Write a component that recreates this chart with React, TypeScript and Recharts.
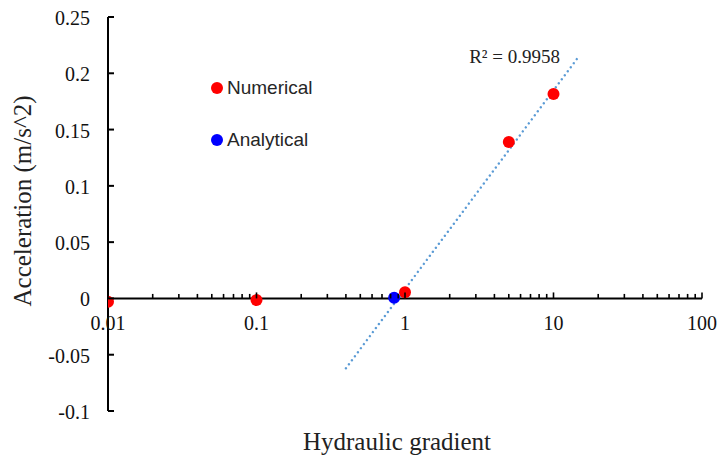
import React from 'react';
import {
  ScatterChart,
  Scatter,
  XAxis,
  YAxis,
  ReferenceLine,
  Legend,
  Label,
  Customized,
} from 'recharts';

// Acceleration vs hydraulic gradient
const numericalX = [0.01, 0.1, 1, 5, 10];
const numericalY = [-0.003, -0.0015, 0.0055, 0.139, 0.1815];

const analyticalX = [0.845];
const analyticalY = [0.0005];

// logarithmic trendline of the numerical run (end points)
const trendX = [0.4, 15];
const trendY = [-0.062, 0.216];
const trendR2 = '0.9958';

const decadeTicks = [0.01, 0.1, 1, 10, 100];
const minorSteps = [2, 3, 4, 5, 6, 7, 8, 9];
const yTicks = [-0.1, -0.05, 0, 0.05, 0.1, 0.15, 0.2, 0.25];

const Y_MIN = -0.1;
const Y_MAX = 0.25;

const W = 721;
const H = 459;
const MARGIN = { top: 17, right: 19, bottom: 0, left: 0 };
const Y_AXIS_W = 108;
const X_AXIS_H = 48;
const PLOT_H = H - MARGIN.top - MARGIN.bottom - X_AXIS_H;
// the horizontal axis crosses at y = 0, not at the bottom of the plot
const ZERO_SHIFT = -PLOT_H * (0 - Y_MIN) / (Y_MAX - Y_MIN);

const SERIF = '"Liberation Serif", "Times New Roman", serif';
const SANS = '"Liberation Sans", Arial, sans-serif';

const toPoints = (xs: number[], ys: number[]) => xs.map((x, i) => ({ x, y: ys[i] }));

const numerical = toPoints(numericalX, numericalY);
const analytical = toPoints(analyticalX, analyticalY);
const trend = toPoints(trendX, trendY);

const xTicks = [
  ...decadeTicks,
  ...decadeTicks.slice(0, -1).flatMap((d) => minorSteps.map((m) => +(d * m).toPrecision(3))),
].sort((a, b) => a - b);

const legendItems = [
  { name: 'Numerical', color: '#FF0000' },
  { name: 'Analytical', color: '#0000FF' },
];

function XTick(props: any) {
  const { x, y, payload } = props;
  const base = y + ZERO_SHIFT;
  const major = decadeTicks.includes(payload.value);
  return (
    <g>
      <line x1={x} x2={x} y1={base} y2={base - (major ? 6 : 4.5)} stroke="#000" strokeWidth={1.6} />
      {major && (
        <text x={x} y={base + 25} textAnchor="middle" dominantBaseline="central" fontFamily={SERIF} fontSize={20} fill="#111">
          {String(payload.value)}
        </text>
      )}
    </g>
  );
}

function YTick(props: any) {
  const { x, y, payload } = props;
  return (
    <g>
      <line x1={x} x2={x + 6} y1={y} y2={y} stroke="#000" strokeWidth={2} />
      <text x={x - 18} y={y + 1} textAnchor="end" dominantBaseline="central" fontFamily={SERIF} fontSize={20} fill="#111">
        {String(payload.value)}
      </text>
    </g>
  );
}

const dot = (color: string) => (p: any) => <circle cx={p.cx} cy={p.cy} r={6} fill={color} />;

function LegendBox() {
  return (
    <div style={{ display: 'flex', flexDirection: 'column', gap: 28 }}>
      {legendItems.map((it) => (
        <div key={it.name} style={{ display: 'flex', alignItems: 'center', height: 24 }}>
          <span style={{ width: 12, height: 12, borderRadius: 6, background: it.color, marginRight: 4 }} />
          <span style={{ fontFamily: SANS, fontSize: 19, color: '#262626' }}>{it.name}</span>
        </div>
      ))}
    </div>
  );
}

function R2Label(props: any) {
  const xScale = props.xAxisMap ? (Object.values(props.xAxisMap)[0] as any)?.scale : null;
  const yScale = props.yAxisMap ? (Object.values(props.yAxisMap)[0] as any)?.scale : null;
  const tx = xScale ? xScale(trendX[1]) : 580;
  const ty = yScale ? yScale(trendY[1]) : 55;
  return (
    <text x={tx - 20} y={ty + 1} textAnchor="end" dominantBaseline="central" fontFamily={SERIF} fontSize={19} fill="#222">
      {`R² = ${trendR2}`}
    </text>
  );
}

export default function App() {
  return (
    <div style={{ position: 'absolute', left: 0, top: 0, background: '#fff' }}>
      <ScatterChart width={W} height={H} margin={MARGIN}>
        <XAxis
          dataKey="x"
          type="number"
          scale="log"
          domain={[0.01, 100]}
          ticks={xTicks}
          interval={0}
          allowDataOverflow
          axisLine={false}
          tickLine={false}
          tickSize={0}
          tickMargin={0}
          height={X_AXIS_H}
          tick={<XTick />}
        >
          <Label
            content={() => (
              <text x={397} y={450} textAnchor="middle" fontFamily={SERIF} fontSize={25} fill="#222">
                Hydraulic gradient
              </text>
            )}
          />
        </XAxis>
        <YAxis
          dataKey="y"
          type="number"
          domain={[Y_MIN, Y_MAX]}
          ticks={yTicks}
          interval={0}
          allowDataOverflow
          width={Y_AXIS_W}
          axisLine={{ stroke: '#000', strokeWidth: 2 }}
          tickLine={false}
          tickSize={0}
          tickMargin={0}
          tick={<YTick />}
        >
          <Label
            content={() => (
              <text
                x={22}
                y={201}
                transform="rotate(-90 22 201)"
                textAnchor="middle"
                dominantBaseline="central"
                fontFamily={SERIF}
                fontSize={25}
                fill="#222"
              >
                Acceleration (m/s^2)
              </text>
            )}
          />
        </YAxis>
        <ReferenceLine y={0} stroke="#000" strokeWidth={2} />
        <Scatter
          name="Trend"
          data={trend}
          line={{ stroke: '#5B9BD5', strokeWidth: 2.4, strokeDasharray: '0.01 5', strokeLinecap: 'round' }}
          shape={() => null}
          legendType="none"
          isAnimationActive={false}
        />
        <Scatter name="Numerical" data={numerical} fill="#FF0000" shape={dot('#FF0000')} isAnimationActive={false} />
        <Scatter name="Analytical" data={analytical} fill="#0000FF" shape={dot('#0000FF')} isAnimationActive={false} />
        <Customized component={R2Label} />
        <Legend
          layout="horizontal"
          verticalAlign="middle"
          align="center"
          wrapperStyle={{ left: 211, top: 76, width: 'auto', height: 'auto' }}
          content={() => <LegendBox />}
        />
      </ScatterChart>
    </div>
  );
}
